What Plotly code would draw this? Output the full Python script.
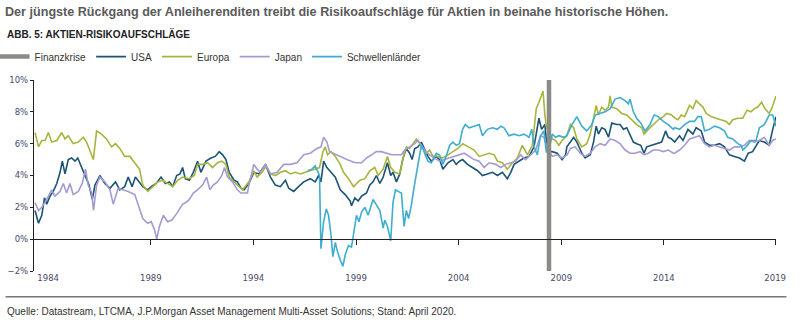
import plotly.graph_objects as go

# ---------------- data (decimal years, percent) ----------------
usa_t = [1983.36,1983.53,1983.69,1983.82,1983.93,1984.09,1984.25,1984.42,1984.58,1984.69,1984.82,1984.98,
         1985.14,1985.31,1985.44,1985.63,1985.79,1985.99,1986.15,1986.28,1986.52,1986.76,1987.01,1987.28,
         1987.49,1987.73,1987.90,1988.09,1988.25,1988.45,1988.61,1988.85,1989.02,1989.26,1989.50,1989.71,
         1989.91,1990.07,1990.26,1990.42,1990.55,1990.68,1990.88,1991.07,1991.28,1991.44,1991.69,1991.93,
         1992.14,1992.33,1992.50,1992.66,1992.82,1993.06,1993.22,1993.39,1993.55,1993.78,1994.02,1994.26,
         1994.59,1994.83,1995.07,1995.31,1995.56,1995.72,1995.96,1996.20,1996.45,1996.77,1997.01,1997.18,
         1997.29,1997.42,1997.58,1997.78,1997.99,1998.23,1998.47,1998.71,1998.78,1998.94,1999.10,1999.27,
         1999.51,1999.67,1999.83,1999.99,2000.16,2000.32,2000.53,2000.69,2000.80,2000.97,2001.13,2001.29,
         2001.45,2001.61,2001.73,2001.86,2002.02,2002.18,2002.34,2002.50,2002.67,2002.91,2003.07,2003.23,
         2003.48,2003.72,2003.88,2004.04,2004.19,2004.43,2004.67,2004.92,2005.16,2005.40,2005.65,2005.89,
         2006.13,2006.37,2006.54,2006.70,2006.94,2007.18,2007.43,2007.67,2007.83,2007.91,2008.04,2008.20,
         2008.32,2008.56,2008.80,2009.04,2009.21,2009.27,2009.44,2009.60,2009.76,2010.00,2010.16,2010.41,
         2010.57,2010.70,2010.81,2010.97,2011.13,2011.30,2011.46,2011.70,2011.86,2012.03,2012.19,2012.35,
         2012.51,2012.67,2012.87,2013.03,2013.16,2013.40,2013.64,2013.89,2014.08,2014.21,2014.37,2014.52,
         2014.76,2014.93,2015.17,2015.41,2015.57,2015.82,2015.98,2016.22,2016.46,2016.71,2016.95,2017.19,
         2017.43,2017.68,2017.92,2018.11,2018.32,2018.49,2018.65,2018.89,2019.13,2019.30,2019.46]
usa_v = [1.8,1.0,1.5,2.6,2.2,2.7,3.0,3.5,4.2,4.9,4.1,5.0,
         5.1,4.9,5.1,4.5,4.0,3.4,2.5,3.4,4.0,3.5,3.2,3.6,
         3.1,3.3,3.9,3.3,3.9,3.6,3.3,3.1,3.3,3.5,3.9,3.5,
         3.6,3.3,4.0,4.1,4.5,3.8,3.7,4.2,4.9,4.2,4.9,5.1,
         5.2,5.5,5.3,5.0,4.2,3.7,3.6,3.2,3.1,3.5,4.2,4.1,
         4.7,3.9,3.4,3.3,3.7,3.2,3.0,3.3,3.6,3.8,3.6,4.0,
         3.6,4.9,4.5,4.2,3.9,3.1,2.8,2.4,2.1,2.6,2.4,2.7,
         2.9,3.4,3.6,4.0,3.5,3.9,4.8,4.0,4.2,3.6,4.1,5.1,
         5.7,5.4,5.0,5.7,5.8,6.1,5.6,5.2,4.9,5.2,5.0,4.4,
         4.8,5.0,4.7,4.9,5.0,4.7,4.5,4.3,4.0,4.1,4.2,4.0,
         4.2,3.8,4.2,4.7,4.9,5.1,5.2,5.8,7.0,7.6,6.9,7.2,
         5.5,5.5,5.4,5.0,5.3,5.8,6.1,6.4,6.1,5.4,5.1,5.3,
         6.1,7.1,6.6,7.0,6.9,6.4,7.3,7.2,7.2,6.9,7.0,6.5,
         6.1,6.0,5.9,5.4,5.8,5.9,6.0,6.1,6.8,6.4,6.3,6.1,
         6.5,6.2,6.9,6.6,7.0,6.8,6.1,5.9,5.9,6.0,5.8,5.3,
         5.2,5.1,4.9,5.4,5.5,5.9,6.2,6.1,5.9,6.9,7.7]

eur_t = [1983.36,1983.53,1983.69,1983.85,1984.01,1984.17,1984.42,1984.66,1984.82,1984.98,1985.22,1985.47,
         1985.71,1985.87,1986.20,1986.36,1986.60,1986.84,1987.09,1987.28,1987.49,1987.73,1987.98,1988.22,
         1988.45,1988.61,1988.85,1989.10,1989.34,1989.58,1989.82,1990.07,1990.31,1990.55,1990.88,1991.12,
         1991.28,1991.52,1991.77,1992.01,1992.25,1992.46,1992.66,1992.82,1993.06,1993.30,1993.47,1993.78,
         1994.02,1994.18,1994.42,1994.63,1994.83,1995.07,1995.31,1995.56,1995.80,1996.04,1996.29,1996.53,
         1996.77,1997.01,1997.22,1997.39,1997.50,1997.61,1997.78,1997.99,1998.23,1998.39,1998.63,1998.88,
         1999.19,1999.43,1999.67,1999.91,2000.08,2000.32,2000.53,2000.69,2000.89,2001.13,2001.29,2001.45,
         2001.61,2001.78,2001.94,2002.10,2002.26,2002.42,2002.58,2002.75,2002.99,2003.23,2003.48,2003.72,
         2003.96,2004.20,2004.51,2004.75,2005.00,2005.24,2005.48,2005.73,2005.89,2006.13,2006.37,2006.62,
         2006.86,2007.10,2007.35,2007.59,2007.78,2007.91,2008.04,2008.11,2008.20,2008.28,2008.56,2008.72,
         2008.88,2009.04,2009.27,2009.44,2009.60,2009.76,2010.00,2010.24,2010.41,2010.57,2010.70,2010.81,
         2010.97,2011.13,2011.30,2011.38,2011.46,2011.70,2011.94,2012.19,2012.43,2012.67,2012.92,2013.03,
         2013.24,2013.48,2013.73,2013.97,2014.13,2014.37,2014.54,2014.68,2014.84,2015.01,2015.25,2015.41,
         2015.57,2015.73,2015.90,2016.06,2016.30,2016.54,2016.79,2017.03,2017.19,2017.35,2017.60,2017.84,
         2018.05,2018.24,2018.41,2018.57,2018.76,2018.92,2019.13,2019.25,2019.46]
eur_v = [6.7,5.8,6.2,6.2,6.7,6.1,6.2,6.7,6.3,6.5,6.0,6.1,
         6.4,6.1,5.0,6.8,6.6,6.3,5.8,6.0,5.7,5.2,5.2,4.8,
         4.4,3.4,3.0,3.3,3.6,3.7,3.5,3.3,3.7,3.9,3.8,4.0,
         4.7,4.7,4.8,4.5,4.8,4.9,4.7,3.9,3.6,3.3,3.1,3.6,
         4.3,3.9,4.2,4.6,4.1,4.0,4.2,4.3,4.1,4.2,4.1,4.2,
         4.3,4.4,4.5,5.5,5.8,5.3,5.5,5.2,4.7,4.2,3.8,3.3,
         3.7,3.8,4.3,4.5,4.0,4.4,5.2,4.5,4.2,4.1,5.1,5.8,
         5.7,6.0,6.3,6.0,5.7,5.4,5.6,5.2,5.2,5.1,5.3,5.5,
         5.7,6.0,5.8,5.6,5.2,5.3,5.4,5.3,4.9,4.8,4.4,4.8,
         5.1,5.9,5.3,5.9,8.2,8.6,9.0,9.3,7.8,7.0,6.3,6.2,
         5.9,6.2,6.5,7.2,7.0,6.3,5.8,6.0,6.6,7.6,8.4,7.8,
         8.3,8.1,8.3,9.0,8.3,8.2,7.9,7.8,7.5,7.2,7.0,6.6,
         6.9,7.2,7.5,7.7,7.9,7.8,7.6,7.5,7.8,7.7,8.4,8.2,
         8.7,8.5,8.3,7.9,7.7,7.6,7.5,7.4,7.2,7.5,7.6,7.6,
         8.1,8.0,8.2,8.3,8.6,8.2,7.9,8.2,9.0]

jpn_t = [1983.36,1983.53,1983.69,1983.93,1984.17,1984.33,1984.58,1984.74,1984.90,1985.06,1985.22,1985.47,
         1985.66,1985.82,1985.95,1986.12,1986.21,1986.36,1986.52,1986.76,1987.01,1987.17,1987.41,1987.65,
         1987.90,1988.22,1988.45,1988.61,1988.85,1989.02,1989.18,1989.29,1989.42,1989.61,1989.82,1990.03,
         1990.31,1990.55,1990.71,1990.88,1991.07,1991.28,1991.52,1991.72,1991.88,1992.04,1992.25,1992.46,
         1992.59,1992.74,1992.98,1993.22,1993.39,1993.71,1993.78,1994.02,1994.18,1994.34,1994.59,1994.83,
         1995.15,1995.48,1995.80,1996.12,1996.45,1996.77,1997.10,1997.29,1997.42,1997.58,1997.71,1997.90,
         1998.23,1998.55,1998.96,1999.27,1999.51,1999.75,1999.99,2000.24,2000.48,2000.72,2000.97,2001.21,
         2001.37,2001.61,2001.86,2002.02,2002.18,2002.34,2002.58,2002.83,2003.07,2003.31,2003.56,2003.80,
         2004.04,2004.27,2004.51,2004.75,2005.00,2005.24,2005.48,2005.81,2006.05,2006.29,2006.54,2006.78,
         2007.02,2007.26,2007.51,2007.75,2007.99,2008.15,2008.32,2008.56,2008.80,2009.04,2009.29,2009.44,
         2009.68,2009.92,2010.16,2010.41,2010.65,2010.89,2011.14,2011.38,2011.62,2011.86,2012.11,2012.35,
         2012.59,2012.84,2013.03,2013.24,2013.48,2013.73,2013.97,2014.21,2014.46,2014.52,2014.76,2015.01,
         2015.25,2015.49,2015.73,2015.98,2016.22,2016.46,2016.71,2016.95,2017.19,2017.43,2017.68,2017.92,
         2018.16,2018.41,2018.65,2018.89,2019.13,2019.30,2019.46]
jpn_v = [2.3,1.8,2.0,2.5,3.1,2.7,3.0,3.5,2.9,3.5,2.8,3.0,
         3.5,4.4,3.4,2.9,1.8,3.4,3.9,3.6,3.1,2.2,3.2,3.1,
         3.0,2.8,1.9,1.3,1.0,1.1,0.6,0.0,0.8,1.5,1.1,1.2,
         1.7,2.2,2.3,2.5,2.9,3.1,3.4,3.9,3.1,3.4,3.6,4.0,
         4.5,3.9,3.6,3.1,2.9,2.9,3.4,4.7,4.4,4.2,4.7,4.1,
         4.2,4.7,4.7,4.8,5.3,5.4,5.7,5.8,6.4,6.1,5.5,5.4,
         5.2,5.0,4.8,4.8,5.1,5.3,5.5,5.5,5.4,5.3,5.3,5.3,
         5.6,5.8,6.0,6.2,5.9,5.6,5.3,5.1,4.9,5.0,5.1,5.2,
         5.3,5.4,5.2,5.0,4.9,4.5,4.8,4.7,4.5,4.7,4.8,4.9,
         5.3,5.0,5.3,5.6,6.5,6.4,5.7,5.2,5.3,5.1,5.3,5.7,
         5.8,5.4,5.2,5.4,5.8,6.0,5.9,6.3,6.2,6.0,5.6,5.4,
         5.4,5.5,5.3,5.4,5.6,5.6,5.5,5.6,5.4,5.4,5.6,5.9,
         6.3,6.4,6.5,6.0,5.8,5.9,5.8,5.7,5.6,5.8,5.8,5.9,
         6.2,6.1,6.2,6.4,5.9,6.2,6.3]

em_t = [1996.64,1996.85,1997.01,1997.13,1997.22,1997.29,1997.42,1997.55,1997.66,1997.78,1997.87,1997.99,
        1998.10,1998.23,1998.36,1998.47,1998.63,1998.78,1999.02,1999.14,1999.27,1999.43,1999.59,1999.83,
        1999.99,2000.16,2000.32,2000.40,2000.53,2000.69,2000.80,2000.92,2001.05,2001.21,2001.34,2001.45,
        2001.56,2001.69,2001.82,2001.94,2002.10,2002.18,2002.31,2002.50,2002.67,2002.91,2003.07,2003.23,
        2003.39,2003.56,2003.72,2003.88,2004.04,2004.19,2004.32,2004.51,2004.75,2005.00,2005.16,2005.40,
        2005.65,2005.89,2006.05,2006.21,2006.45,2006.70,2006.94,2007.18,2007.43,2007.56,2007.67,2007.83,
        2007.99,2008.15,2008.27,2008.40,2008.56,2008.72,2008.88,2009.13,2009.27,2009.52,2009.76,2010.00,
        2010.24,2010.49,2010.65,2010.89,2011.14,2011.38,2011.62,2011.86,2012.11,2012.27,2012.35,2012.51,
        2012.67,2012.87,2013.08,2013.32,2013.52,2013.73,2013.97,2014.21,2014.46,2014.52,2014.76,2015.01,
        2015.25,2015.49,2015.65,2015.82,2015.98,2016.22,2016.46,2016.71,2016.95,2017.11,2017.35,2017.60,
        2017.76,2017.84,2018.00,2018.24,2018.49,2018.65,2018.89,2019.13,2019.30,2019.46]
em_v = [4.3,4.4,4.6,4.3,4.0,-0.6,1.1,1.9,1.5,0.25,-1.1,-0.2,
        -0.8,-1.3,-1.7,-1.0,-0.4,-0.5,1.5,1.1,1.7,2.0,1.5,2.5,
        2.2,1.8,0.7,1.2,0.8,-0.1,2.3,3.1,3.0,2.9,0.8,1.8,
        1.3,2.1,3.2,4.2,5.3,5.9,5.5,4.9,4.8,5.4,5.3,4.7,
        5.2,5.9,6.1,5.9,6.0,6.9,7.2,7.0,7.1,7.2,6.5,6.9,
        7.0,6.9,7.1,7.0,6.5,6.6,6.5,6.6,6.4,6.9,5.8,5.3,
        6.5,6.8,5.5,5.6,6.6,6.4,6.5,6.4,6.5,7.2,7.7,7.1,
        6.8,7.2,7.8,7.9,8.0,8.2,8.8,8.9,8.7,8.5,8.8,8.0,
        7.6,7.3,6.8,7.2,7.8,7.7,7.4,7.2,6.9,7.0,6.9,7.2,
        7.4,7.4,7.7,7.7,6.8,6.9,7.1,7.0,6.8,6.4,6.3,6.0,
        5.9,5.6,5.8,6.2,6.2,7.0,7.2,7.8,7.8,7.1]

crisis_t = [2008.40, 2008.40]
crisis_v = [-2, 10]

tick_vals = [1984, 1989, 1994, 1999, 2004, 2009, 2014, 2019.42]
tick_text = ["1984", "1989", "1994", "1999", "2004", "2009", "2014", "2019"]
x_range = [1983.31, 2019.46]
y_range = [-2, 10]

# ---------------- styling ----------------
C_USA = "#1b5475"
C_EUR = "#a7b53c"
C_JPN = "#a49bd2"
C_EM = "#3fadd0"
C_CRISIS = "#8a8a86"
NARROW = "Liberation Sans Narrow, Arial Narrow, Liberation Sans, Arial, sans-serif"
TICKFONT = dict(family="DejaVu Sans, Verdana, sans-serif", size=8.5, color="#4a4a66")

fig = go.Figure()
series = [("USA", usa_t, usa_v, C_USA), ("Europa", eur_t, eur_v, C_EUR),
          ("Japan", jpn_t, jpn_v, C_JPN), ("Schwellenländer", em_t, em_v, C_EM)]
for i, (name, t, v, c) in enumerate(series):
    fig.add_trace(go.Scatter(x=t, y=v, mode="lines", name=name,
                             line=dict(color=c, width=1.6), legendrank=2 + i,
                             hoverinfo="skip"))
fig.add_trace(go.Scatter(x=crisis_t, y=crisis_v, mode="lines", name="Finanzkrise",
                         line=dict(color=C_CRISIS, width=4.5), legendrank=1,
                         hoverinfo="skip"))

L, R, T, B = 33.5, 31.5, 79.5, 60.5
W, H = 808, 332
pw = W - L - R
ph = H - T - B

def px_to_paper_x(px):
    return (px - L) / pw

def px_to_paper_y(py):
    return (H - B - py) / ph

fig.update_layout(
    width=W, height=H,
    margin=dict(l=L, r=R, t=T, b=B, pad=0, autoexpand=False),
    paper_bgcolor="white", plot_bgcolor="white",
    showlegend=True,
    legend=dict(orientation="h", x=px_to_paper_x(-6), xanchor="left",
                y=px_to_paper_y(56), yanchor="middle",
                font=dict(family=NARROW, size=10, color="#333333"),
                bgcolor="rgba(0,0,0,0)", itemwidth=30, tracegroupgap=0,
                traceorder="normal"),
    title=dict(text="Der jüngste Rückgang der Anleiherenditen treibt die Risikoaufschläge für Aktien in beinahe historische Höhen.",
               x=5 / W, xanchor="left", xref="container",
               y=1 - 12 / H, yanchor="middle", yref="container",
               font=dict(family=NARROW, size=12.6, color="#5a5a5a", weight="bold")),
    xaxis=dict(range=x_range, tickvals=tick_vals, ticktext=tick_text, ticks="",
               showline=False, showgrid=False, zeroline=False, automargin=False,
               tickfont=TICKFONT, fixedrange=True),
    xaxis2=dict(range=x_range, matches="x", overlaying="x", anchor="free",
                position=(0 - y_range[0]) / (y_range[1] - y_range[0]),
                tickvals=tick_vals[1:], ticks="outside", ticklen=5, tickwidth=1.2,
                tickcolor="#222222", showticklabels=False, showline=True, automargin=False,
                linecolor="#222222", linewidth=1.3, showgrid=False, zeroline=False),
    yaxis=dict(range=y_range, dtick=2, tick0=0, ticksuffix="%", ticks="outside",
               ticklen=3, tickwidth=1.2, tickcolor="#222222", showline=True,
               linecolor="#222222", linewidth=1.3, showgrid=False, zeroline=False,
               automargin=False, tickfont=TICKFONT, fixedrange=True),
)

# helper trace so that xaxis2 is drawn
fig.add_trace(go.Scatter(x=[x_range[0]], y=[y_range[0]], xaxis="x2", mode="markers",
                         marker=dict(opacity=0), showlegend=False, hoverinfo="skip"))

fig.add_annotation(text="<b>ABB. 5: AKTIEN-RISIKOAUFSCHLÄGE</b>", xref="paper", yref="paper",
                   x=px_to_paper_x(4), y=px_to_paper_y(33), xanchor="left", yanchor="middle",
                   showarrow=False, font=dict(family=NARROW, size=10, color="#222222"))
fig.add_annotation(text="Quelle: Datastream, LTCMA, J.P.Morgan Asset Management Multi-Asset Solutions; Stand: April 2020.",
                   xref="paper", yref="paper", x=px_to_paper_x(4), y=px_to_paper_y(312),
                   xanchor="left", yanchor="middle", showarrow=False,
                   font=dict(family=NARROW, size=10, color="#333333"))
fig.add_shape(type="line", xref="paper", yref="paper",
              x0=px_to_paper_x(5), x1=px_to_paper_x(787),
              y0=px_to_paper_y(297.5), y1=px_to_paper_y(297.5),
              line=dict(color="#777777", width=1.5))

fig.write_html("out.html", config={"displayModeBar": False})
